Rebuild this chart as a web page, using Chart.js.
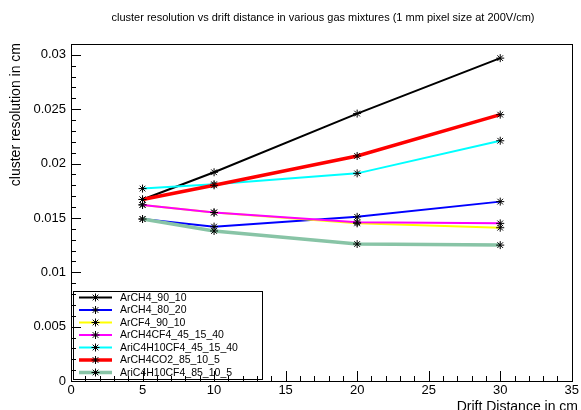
<!DOCTYPE html>
<html>
<head>
<meta charset="utf-8">
<script src="https://cdn.jsdelivr.net/npm/chart.js@4.4.1/dist/chart.umd.min.js"></script>
<style>
  html, body { margin: 0; padding: 0; background: #fff; }
  #wrap { width: 581px; height: 410px; }
</style>
</head>
<body>
<div id="wrap"><canvas id="chart" width="581" height="410"></canvas></div>
<script>
// Drift distances (cm)
const distances = [5, 10, 20, 30];

// cluster resolution (cm) per gas mixture
const labels = [
    'ArCH4_90_10', 'ArCH4_80_20', 'ArCF4_90_10', 'ArCH4CF4_45_15_40',
    'AriC4H10CF4_45_15_40', 'ArCH4CO2_85_10_5', 'AriC4H10CF4_85_10_5'
];
const arCH4_90_10      = [0.0167, 0.0192, 0.0246, 0.0297];
const arCH4_80_20      = [0.0149, 0.0142, 0.0151, 0.0165];
const arCF4_90_10      = [0.0162, 0.0155, 0.0145, 0.0141];
const arCH4CF4_45_15_40 = [0.0162, 0.0155, 0.0146, 0.0145];
const ariC4H10CF4_45_15_40 = [0.0177, 0.0181, 0.0191, 0.0221];
const arCH4CO2_85_10_5 = [0.0167, 0.0180, 0.0207, 0.0245];
const ariC4H10CF4_85_10_5 = [0.0149, 0.0138, 0.0126, 0.0125];

const yTicks = [0, 0.005, 0.01, 0.015, 0.02, 0.025, 0.03];
const xTicks = [0, 5, 10, 15, 20, 25, 30, 35];

const series = [arCH4_90_10, arCH4_80_20, arCF4_90_10, arCH4CF4_45_15_40,
    ariC4H10CF4_45_15_40, arCH4CO2_85_10_5, ariC4H10CF4_85_10_5];
const colors = ['#000000', '#0000ff', '#ffff00', '#ff00ff', '#00ffff', '#ff0000', '#88c4a6'];
const widths = [2, 2, 2, 2, 2, 3.5, 3.5];

const FONT = '"Liberation Sans", Arial, sans-serif';
const TITLE = 'cluster resolution vs drift distance in various gas mixtures (1 mm pixel size at 200V/cm)';

const datasets = series.map((vals, i) => ({
    label: labels[i],
    data: vals.map((v, j) => ({ x: distances[j], y: v })),
    borderColor: colors[i],
    borderWidth: widths[i],
    pointStyle: 'star',
    pointRadius: 4,
    pointBorderColor: '#000',
    pointBorderWidth: 1,
    pointBackgroundColor: '#000',
    order: series.length - i,
    tension: 0
}));

// ROOT-ish frame, inward ticks, titles and legend box
const rootStyle = {
    id: 'rootStyle',
    afterDraw(chart) {
        const ctx = chart.ctx;
        const a = chart.chartArea;
        const xs = chart.scales.x, ys = chart.scales.y;
        ctx.save();

        // title
        ctx.fillStyle = '#000';
        ctx.font = '11px ' + FONT;
        ctx.textAlign = 'center';
        ctx.textBaseline = 'middle';
        ctx.fillText(TITLE, 323, 18);

        // legend
        const lx = 73, ly = 291, lw = 189, lh = 88;
        ctx.fillStyle = '#fff';
        ctx.fillRect(lx, ly, lw, lh);
        ctx.strokeStyle = '#000';
        ctx.lineWidth = 1;
        ctx.strokeRect(lx + 0.5, ly + 0.5, lw, lh);
        ctx.font = '10.5px ' + FONT;
        ctx.textBaseline = 'middle';
        chart.data.datasets.forEach((ds, i) => {
            const yy = ly + 6.5 + i * 12.5;
            ctx.strokeStyle = ds.borderColor;
            ctx.lineWidth = ds.borderWidth;
            ctx.beginPath();
            ctx.moveTo(79, yy);
            ctx.lineTo(112, yy);
            ctx.stroke();
            ctx.strokeStyle = '#000';
            ctx.fillStyle = '#000';
            ctx.lineWidth = 1;
            Chart.helpers.drawPoint(ctx, { pointStyle: 'star', radius: 4, borderWidth: 1 }, 95.5, yy);
            ctx.textAlign = 'left';
            ctx.fillText(ds.label, 120, yy + 0.5);
        });

        // frame
        ctx.strokeStyle = '#000';
        ctx.lineWidth = 1;
        ctx.strokeRect(Math.round(a.left) + 0.5, Math.round(a.top) + 0.5,
            Math.round(a.right - a.left), Math.round(a.bottom - a.top));

        // x ticks (inward)
        ctx.beginPath();
        for (let v = 0; v <= 35; v += 1) {
            const px = Math.round(xs.getPixelForValue(v)) + 0.5;
            const len = v % 5 === 0 ? 10 : 5;
            ctx.moveTo(px, a.bottom);
            ctx.lineTo(px, a.bottom - len);
        }
        // y ticks (inward)
        for (let k = 0; k <= 31; k++) {
            const v = k * 0.001;
            const py = Math.round(ys.getPixelForValue(v)) + 0.5;
            const len = k % 5 === 0 ? 10 : 5;
            ctx.moveTo(a.left, py);
            ctx.lineTo(a.left + len, py);
        }
        ctx.stroke();

        // axis titles
        ctx.fillStyle = '#000';
        ctx.font = '14px ' + FONT;
        ctx.textAlign = 'right';
        ctx.textBaseline = 'top';
        ctx.fillText('Drift Distance in cm', 578, 400);
        ctx.translate(20, a.top - 1);
        ctx.rotate(-Math.PI / 2);
        ctx.textAlign = 'right';
        ctx.textBaseline = 'alphabetic';
        ctx.fillText('cluster resolution in cm', 0, 0);
        ctx.restore();
    }
};

new Chart(document.getElementById('chart'), {
    type: 'line',
    data: { datasets: datasets },
    options: {
        responsive: false,
        animation: false,
        devicePixelRatio: 1,
        layout: { padding: { left: 0, right: 6, top: 44, bottom: 0 } },
        plugins: {
            legend: { display: false },
            tooltip: { enabled: false },
            title: { display: false }
        },
        scales: {
            x: {
                type: 'linear',
                min: 0, max: 35,
                afterBuildTicks: s => { s.ticks = xTicks.map(v => ({ value: v })); },
                afterFit: s => { s.height = 29; },
                grid: { display: false, tickLength: 0 },
                border: { display: false },
                ticks: { color: '#000', padding: 2, maxRotation: 0, font: { family: FONT, size: 13 } }
            },
            y: {
                type: 'linear',
                min: 0, max: 0.031,
                afterBuildTicks: s => { s.ticks = yTicks.map(v => ({ value: v })); },
                afterFit: s => { s.width = 71; },
                grid: { display: false, tickLength: 0 },
                border: { display: false },
                ticks: {
                    color: '#000', padding: 5, font: { family: FONT, size: 13 },
                    callback: v => String(+v.toFixed(3))
                }
            }
        }
    },
    plugins: [rootStyle]
});
</script>
</body>
</html>
